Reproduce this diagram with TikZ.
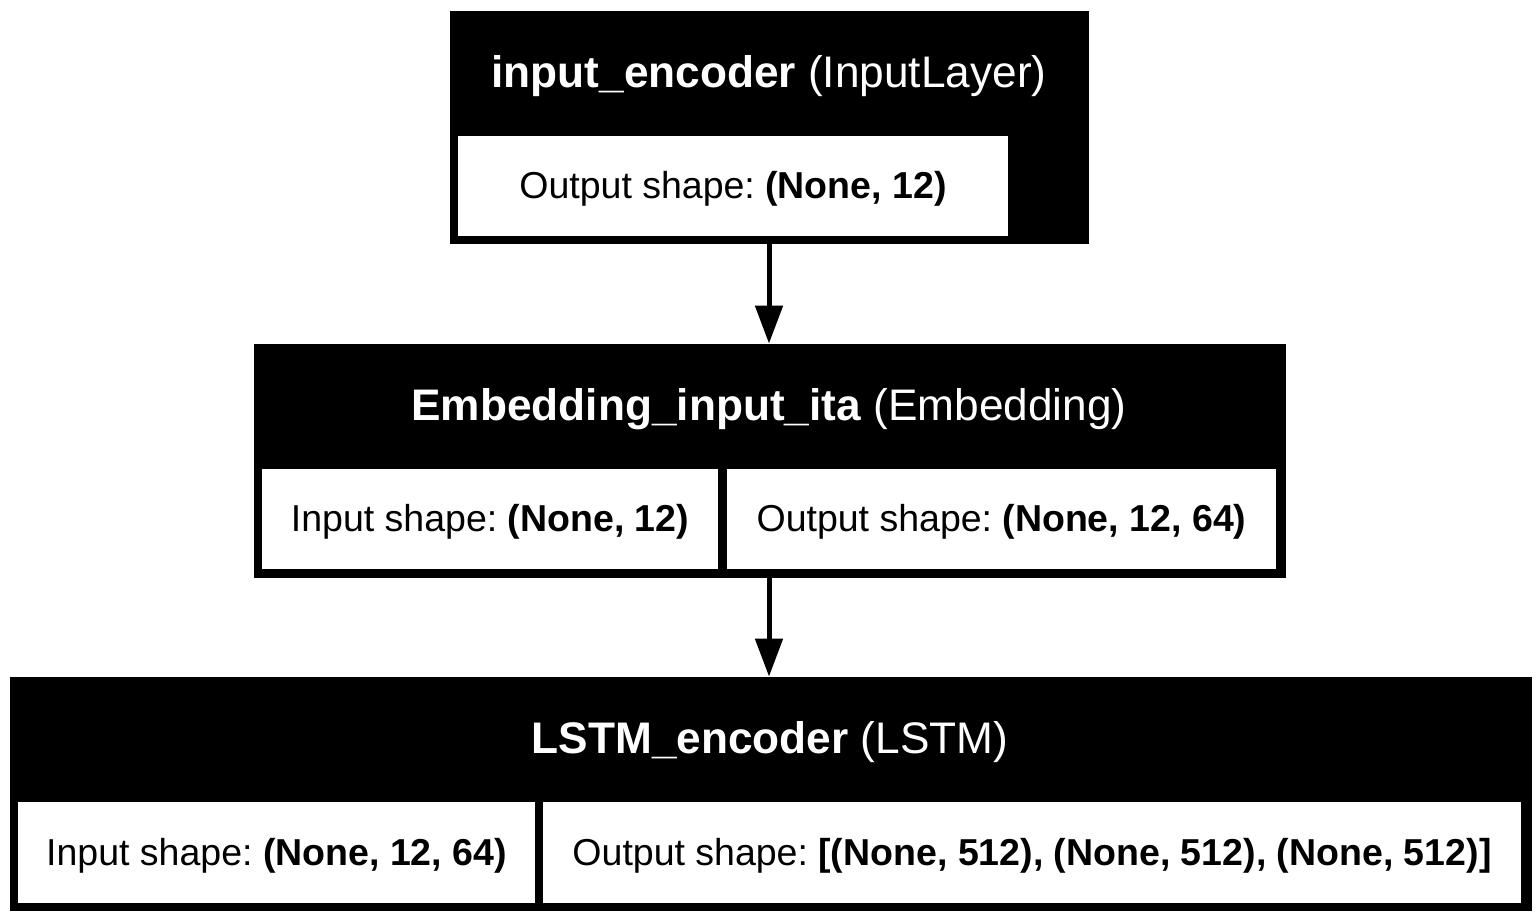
\documentclass[tikz,border=0pt]{standalone}
\usepackage{fontspec}
\setmainfont{Liberation Sans}
\usetikzlibrary{arrows.meta}
\frenchspacing
\begin{document}
\begin{tikzpicture}[x=0.5pt,y=-0.5pt,
    layer/.style={draw=black, fill=black, inner sep=0pt, minimum height=116.5pt},
    shapebox/.style={fill=white, inner sep=0pt, minimum height=50pt, text height=17pt, text depth=4.5pt, font=\fontsize{18.75}{22}\selectfont},
    title/.style={text=white, inner sep=0pt, font=\fontsize{22.1}{26}\selectfont},
    flow/.style={-{Triangle[length=19pt,width=13.5pt]}, line width=2.5pt}]

    \useasboundingbox (0,0) rectangle (1539,922);

    % Layer boxes
    \node[layer, minimum width=319pt, minimum height=116pt] (L0) at (769,127) {};
    \node[layer, minimum width=515.5pt] (L1) at (769.5,460.5) {};
    \node[layer, minimum width=760.5pt] (L2) at (770.5,793.5) {};

    % Layer titles
    \node[title] (T0) at (769,76)  {\textbf{input\_encoder} (InputLayer)};
    \node[title] (T1) at (769,409) {\textbf{Embedding\_input\_ita} (Embedding)};
    \node[title] (T2) at (770,742) {\textbf{LSTM\_encoder} (LSTM)};

    % Shape boxes
    \node[shapebox, minimum width=275pt]   (S0)  at (733,186)    {Output shape: \textbf{(None, 12)}};
    \node[shapebox, minimum width=228pt]   (S1a) at (490,519)    {Input shape: \textbf{(None, 12)}};
    \node[shapebox, minimum width=274.5pt] (S1b) at (1001.5,519) {Output shape: \textbf{(None, 12, 64)}};
    \node[shapebox, minimum width=258.5pt, minimum height=50.5pt] (S2a) at (276.5,852.5) {Input shape: \textbf{(None, 12, 64)}};
    \node[shapebox, minimum width=489pt, minimum height=50.5pt]   (S2b) at (1032,852.5)  {Output shape: \textbf{[(None, 512), (None, 512), (None, 512)]}};

    % Connections
    \draw[flow] (L0.south) -- (L0.south |- L1.north);
    \draw[flow] (L0.south |- L1.south) -- (L0.south |- L2.north);

\end{tikzpicture}
\end{document}
